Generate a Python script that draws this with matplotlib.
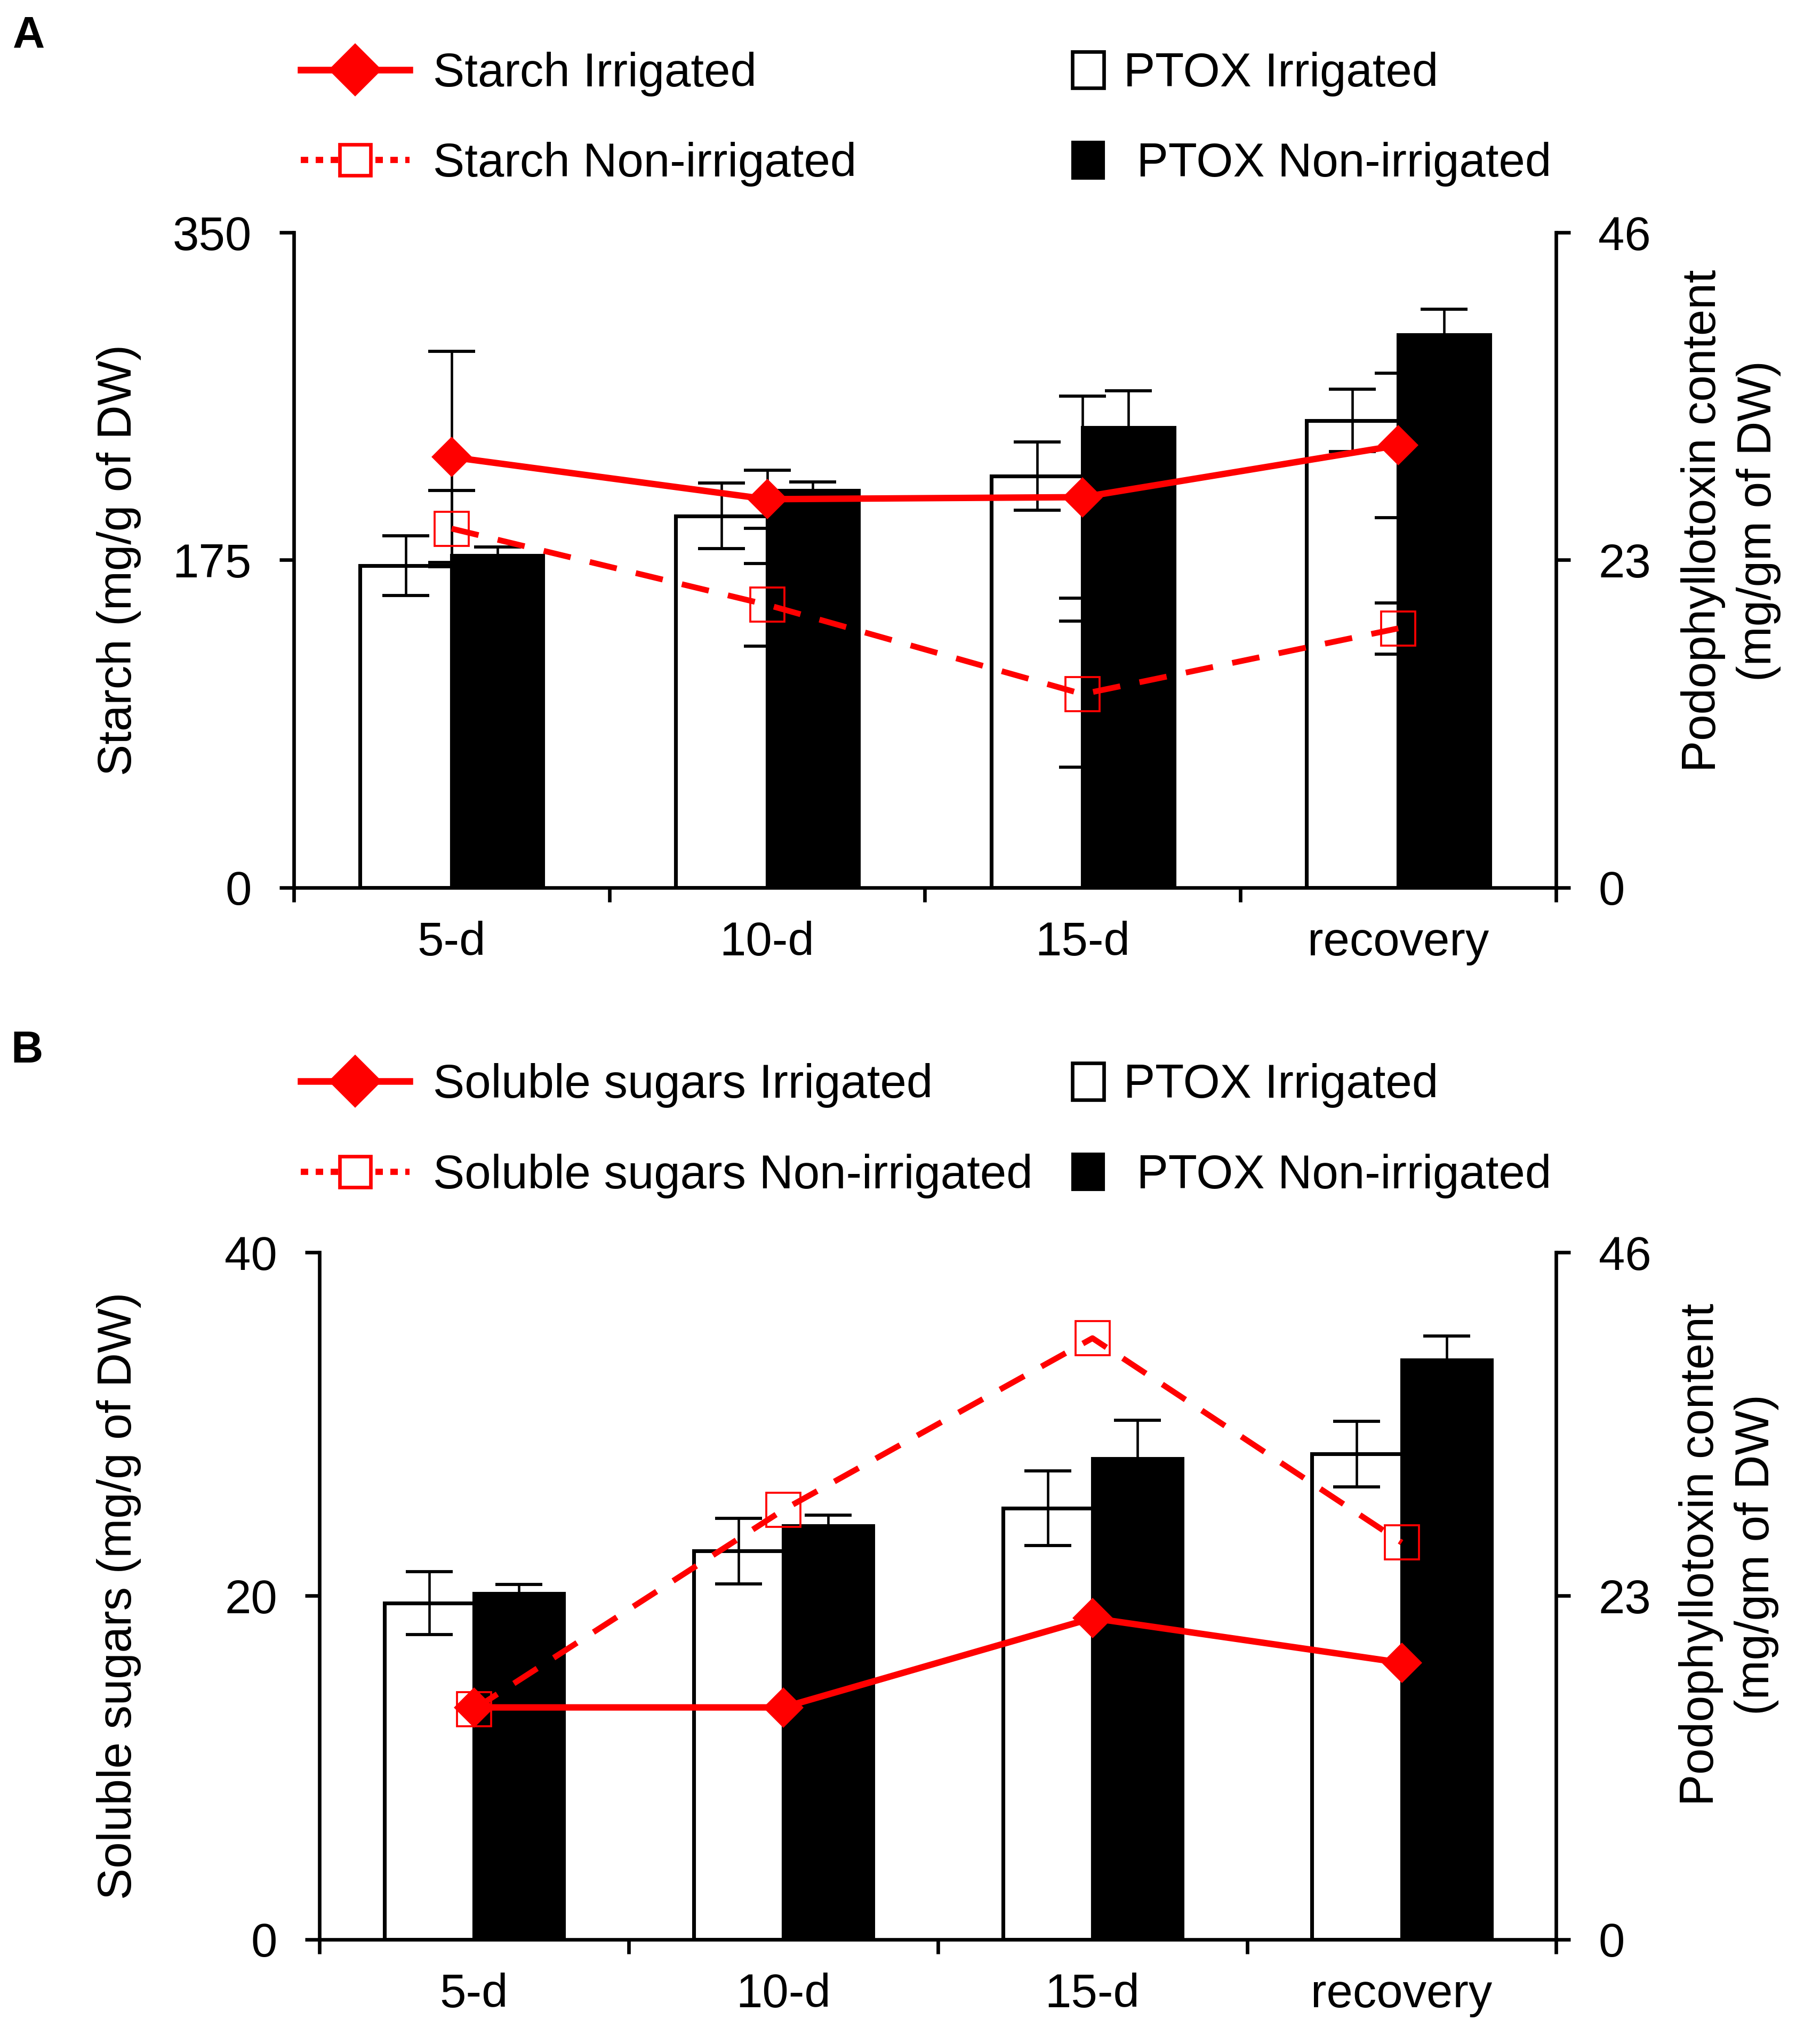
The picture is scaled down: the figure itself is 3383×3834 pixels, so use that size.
import numpy as np
import matplotlib
matplotlib.use('Agg')
import matplotlib.pyplot as plt
from matplotlib.lines import Line2D
from matplotlib.patches import Patch

plt.rcParams['font.family'] = ['Liberation Sans', 'DejaVu Sans']

### data
stages = ['5-d', '10-d', '15-d', 'recovery']

# panel A: starch (left axis) + PTOX bars (right axis)
starch_irr = [230.0, 207.5, 208.6, 236.3]
starch_irr_err = [56.4, 15.5, 54.0, 38.6]
starch_non = [191.8, 151.1, 103.4, 138.5]
starch_non_err = [20.4, 22.0, 39.0, 13.7]
ptoxA_irr = [22.6, 26.1, 28.9, 32.8]
ptoxA_irr_err = [2.1, 2.3, 2.4, 2.2]
ptoxA_non = [23.3, 27.9, 32.3, 38.8]
ptoxA_non_err = [0.6, 0.6, 2.6, 1.8]

# panel B: soluble sugars (left axis) + PTOX bars (right axis)
sugar_irr = [13.5, 13.5, 18.7, 16.1]
sugar_non = [13.4, 25.0, 35.0, 23.1]
ptoxB_irr = [22.5, 26.0, 28.85, 32.5]
ptoxB_irr_err = [2.1, 2.2, 2.5, 2.2]
ptoxB_non = [23.15, 27.7, 32.2, 38.8]
ptoxB_non_err = [0.6, 0.7, 2.55, 1.6]

left_ticks_A = [0, 175, 350]
left_ticks_B = [0, 20, 40]
right_ticks = [0, 23, 46]

FS = 21.3
LW = 1.6
err_kw = dict(ecolor='black', elinewidth=1.1, capsize=10.5, capthick=1.4)

fig = plt.figure(figsize=(3383 / 300., 3834 / 300.), dpi=300)


def blank(ax):
    ax.patch.set_visible(False)
    for s in ax.spines.values():
        s.set_visible(False)
    ax.set_xticks([])
    ax.set_yticks([])
    ax.set_xlim(-0.5, 3.5)


def draw_panel(rect, left_ticks, left_label, ylab_x, line_irr, line_non,
               bar_irr, bar_irr_err, bar_non, bar_non_err,
               line_irr_err=None, line_non_err=None):
    x = np.arange(len(stages))
    # layers: white bars < line error bars < black bars < lines
    ax_w = fig.add_axes(rect)
    ax_e = fig.add_axes(rect)
    ax_b = fig.add_axes(rect)
    ax_l = fig.add_axes(rect)
    for ax in (ax_w, ax_e, ax_b, ax_l):
        blank(ax)

    ax_w.set_ylim(0, right_ticks[-1])
    ax_w.bar(x - 0.145, bar_irr, 0.29, color='white', edgecolor='black',
             linewidth=1.7, yerr=bar_irr_err, error_kw=err_kw)

    ax_e.set_ylim(0, left_ticks[-1])
    if line_irr_err is not None:
        ax_e.errorbar(x, line_irr, yerr=line_irr_err, fmt='none', **err_kw)
        ax_e.errorbar(x, line_non, yerr=line_non_err, fmt='none', **err_kw)

    ax_b.set_ylim(0, right_ticks[-1])
    ax_b.bar(x + 0.145, bar_non, 0.29, color='black', edgecolor='black',
             linewidth=1.7, yerr=bar_non_err, error_kw=err_kw)
    ax_b.spines['right'].set_visible(True)
    ax_b.spines['right'].set_linewidth(LW)
    ax_b.yaxis.tick_right()
    ax_b.set_yticks(right_ticks)
    ax_b.tick_params(axis='y', length=6.5, width=LW, pad=12.5, labelsize=FS)
    ax_b.yaxis.set_label_position('right')
    ax_b.set_ylabel('Podophyllotoxin content\n(mg/gm of DW)', fontsize=FS,
                    linespacing=1.3)
    ax_b.yaxis.set_label_coords(1.099, 0.56)

    ax_l.set_ylim(0, left_ticks[-1])
    ax_l.plot(x, line_irr, color='red', lw=2.9, marker='D', ms=12,
              mfc='red', mec='red')
    ax_l.plot(x, line_non, color='red', lw=2.6, ls=(0, (4.8, 3.4)),
              marker='s', ms=15.5, mfc='none', mec='red', mew=0.9)
    ax_l.spines['left'].set_visible(True)
    ax_l.spines['bottom'].set_visible(True)
    ax_l.spines['left'].set_linewidth(LW)
    ax_l.spines['bottom'].set_linewidth(LW)
    ax_l.set_yticks(left_ticks)
    ax_l.tick_params(axis='y', length=6.5, width=LW, pad=12.5, labelsize=FS)
    ax_l.set_xticks([-0.5, 0.5, 1.5, 2.5, 3.5])
    ax_l.set_xticklabels([])
    ax_l.set_xticks(x, minor=True)
    ax_l.set_xticklabels(stages, minor=True)
    ax_l.tick_params(axis='x', which='major', length=6.5, width=LW)
    ax_l.tick_params(axis='x', which='minor', length=0, pad=15, labelsize=FS)
    ax_l.set_ylabel(left_label, fontsize=FS)
    ax_l.yaxis.set_label_coords(ylab_x, 0.5)
    return ax_l


def draw_legend(y, name):
    h_irr = Line2D([], [], color='red', lw=3, marker='D', ms=16,
                   mfc='red', mec='red')
    h_non = Line2D([], [], color='red', lw=2.8, ls=(0, (1.2, 1.2)),
                   marker='s', ms=14, mfc='white', mec='red', mew=1.6)
    fig.legend([h_irr, h_non], [name + ' Irrigated', name + ' Non-irrigated'],
               loc='center left', bbox_to_anchor=(564 / 3383., y),
               frameon=False, borderpad=0, borderaxespad=0, handlelength=2.3,
               handletextpad=0.49, labelspacing=0.96, fontsize=FS)
    p_irr = Patch(facecolor='white', edgecolor='black', linewidth=1.6)
    p_non = Patch(facecolor='black', edgecolor='black')
    fig.legend([p_irr, p_non], ['PTOX Irrigated', ' PTOX Non-irrigated'],
               loc='center left', bbox_to_anchor=(2011 / 3383., y),
               frameon=False, borderpad=0, borderaxespad=0, handlelength=0.67,
               handleheight=0.81, handletextpad=0.41, labelspacing=0.96,
               fontsize=FS)


draw_panel([0.16287, 0.56573, 0.69967, 0.32055], left_ticks_A,
           'Starch (mg/g of DW)', -0.121, starch_irr, starch_non,
           ptoxA_irr, ptoxA_irr_err, ptoxA_non, ptoxA_non_err,
           starch_irr_err, starch_non_err)
draw_legend(0.9417, 'Starch')

draw_panel([0.17706, 0.05125, 0.68563, 0.33607], left_ticks_B,
           'Soluble sugars (mg/g of DW)', -0.144, sugar_irr, sugar_non,
           ptoxB_irr, ptoxB_irr_err, ptoxB_non, ptoxB_non_err)
draw_legend(0.4468, 'Soluble sugars')

fig.text(0.007, 0.9926, 'A', fontsize=20, fontweight='bold', va='top', ha='left')
fig.text(0.006, 0.4960, 'B', fontsize=20, fontweight='bold', va='top', ha='left')

plt.savefig('out.png', dpi=300)
